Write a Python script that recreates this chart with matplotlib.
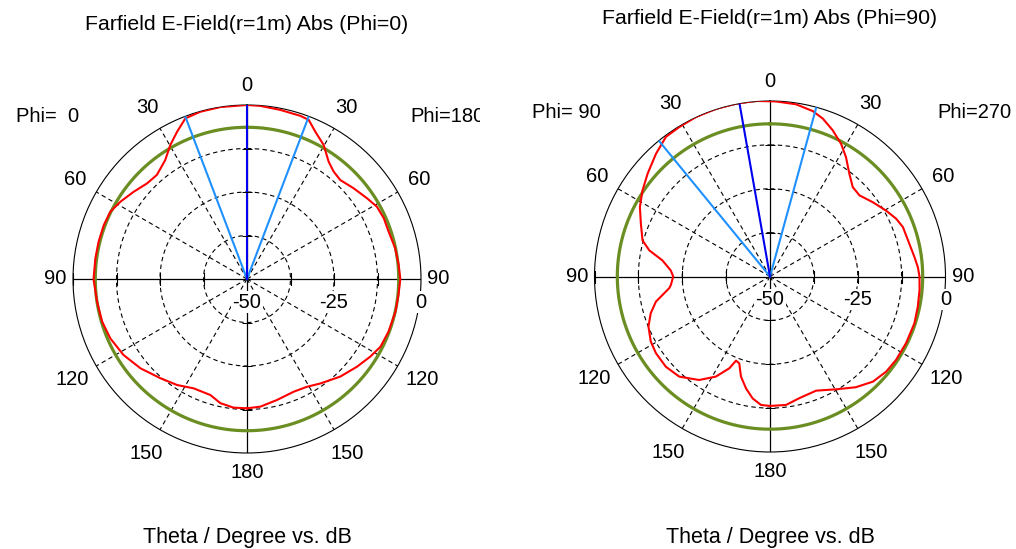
import numpy as np
import matplotlib
matplotlib.use('Agg')
import matplotlib.pyplot as plt
from matplotlib.transforms import Bbox, TransformedBbox, offset_copy

plt.rcParams['font.family'] = ['Liberation Sans', 'DejaVu Sans']

# ---------------- data ----------------
# plot angle: degrees clockwise from top (negative = left half)
left_theta = [-180, -174, -167.9, -162.5, -154, -146.6, -138.9, -130, -121.6, -113.5,
              -106.4, -98.6, -92.2, -90, -82.2, -75.9, -69.4, -63.8, -58.6, -52.4,
              -46.3, -40.9, -34.5, -29.8, -25.4, -21, -15.6, -8.8, 0, 4.4,
              11.2, 18.1, 21.2, 24.9, 29.8, 34.8, 38.9, 43.3, 49.6, 56.1,
              60.9, 66.1, 71.5, 78.3, 84.7, 90, 96, 102.4, 110.4, 116.9,
              122.2, 128.6, 136.3, 144.9, 150.9, 157.5, 166.1, 174, 180]
left_db = [-12.84, -12.84, -13.51, -15.04, -15.04, -13.51, -12.16, -10.06, -8.33, -7.18,
           -6.61, -6.42, -6.13, -5.9, -6.03, -6.03, -6.03, -6.23, -7.38, -8.91,
           -10.25, -10.44, -8.52, -5.65, -3.16, -0.57, -0.10, 0.0, 0.0, -0.1,
           -0.48, -0.67, -0.96, -3.35, -5.65, -8.91, -10.34, -10.92, -9.77, -8.43,
           -7.28, -6.99, -7.09, -6.51, -6.23, -5.94, -6.23, -6.32, -6.61, -6.99,
           -8.14, -9.58, -11.21, -13.31, -14.56, -14.94, -14.18, -13.12, -12.84]

right_theta = [-180, -176, -171.9, -167.9, -163.8, -160.5, -158, -156.1, -151.6, -145.6,
               -137.8, -130.9, -123.9, -118.6, -112.4, -107.1, -102.4, -96.6, -94.8, -90,
               -86.5, -81.5, -77.8, -74.2, -67.8, -61.9, -56, -50, -42.9, -36.7,
               -31.3, -24.9, -17.9, -11.1, -4.6, 2, 8.6, 14.5, 18.5, 23.2,
               28.2, 32.5, 37.7, 42.8, 47.8, 54.1, 60.4, 65.4, 69.6, 76.8,
               82.4, 86.4, 90, 95.1, 101.5, 108, 116.1, 123.5, 129.3, 135.6,
               142.2, 149.6, 158, 166.4, 172.9, 180]
right_db = [-13.12, -13.31, -14.92, -17.40, -20.34, -23.76, -24.14, -21.39, -17.59, -14.26,
            -11.50, -10.74, -10.84, -11.31, -12.55, -14.45, -16.73, -21.10, -21.67, -22.43,
            -21.67, -19.01, -14.83, -12.26, -10.27, -7.98, -6.18, -4.47, -2.28, -0.38,
            -0.19, 0.1, 0.19, 0.19, 0.19, -0.10, -0.38, -1.33, -2.57, -4.66,
            -7.13, -9.70, -13.02, -15.30, -15.59, -13.88, -11.98, -10.46, -9.60, -9.22,
            -8.46, -7.79, -7.41, -7.22, -7.03, -6.75, -6.84, -6.94, -7.22, -8.08,
            -10.08, -12.74, -14.92, -14.35, -13.12, -13.12]

green_level = [-6.4, -6.5]
main_lobe = [0.0, -10.0]
beam_width = [[-20.8, 20.8], [-39.3, 15.3]]

r_min, r_max = -50, 0
ring_levels = [-37.5, -25, -12.5]
radial_labels = ['-50', '-25', '0']
angle_ticks = [30, 60, 120, 150]
titles = ['Farfield E-Field(r=1m) Abs (Phi=0)', 'Farfield E-Field(r=1m) Abs (Phi=90)']
phi_left = ['Phi=  0', 'Phi= 90']
phi_right = ['Phi=180', 'Phi=270']
xlabel = 'Theta / Degree vs. dB'

# ---------------- layout ----------------
W, H = 1016, 549
fig = plt.figure(figsize=(W / 100, H / 100), dpi=100)
fig.patch.set_facecolor('white')

RED = '#ff0000'
GREEN = '#6b8e23'
DBLUE = '#0000ee'
LBLUE = '#1e90ff'
FS = 14.5


def fx(x):
    return x / W


def fy(y):
    return 1 - y / H


def make_plot(i, cx, cy, R, theta, db, title_y):
    ax = fig.add_axes([fx(cx - R), fy(cy + R), 2 * R / W, 2 * R / H], projection='polar')
    ax.set_theta_zero_location('N')
    ax.set_theta_direction(-1)
    ax.set_rlim(r_min, r_max)
    ax.grid(False)
    ax.set_xticks([])
    ax.set_yticks([])
    ax.spines['polar'].set_linewidth(0.8)
    ax.spines['polar'].set_color('black')

    full = np.linspace(0, 2 * np.pi, 721)
    dash = (0, (4, 3))
    for lvl in ring_levels:
        ax.plot(full, np.full_like(full, lvl), color='black', lw=0.8, ls=dash, zorder=1)
    for a in angle_ticks:
        for s in (1, -1):
            ax.plot([np.deg2rad(s * a)] * 2, [r_min, r_max], color='black', lw=0.8, ls=dash, zorder=1)
    for a in (0, 90, 180, -90):
        ax.plot([np.deg2rad(a)] * 2, [r_min, r_max], color='black', lw=0.9, zorder=2)
    tick_r = ring_levels + [r_max]
    ax.plot([np.deg2rad(90)] * 4, tick_r, ls='none', marker='|', ms=8, mew=0.8, color='black', zorder=2)
    ax.plot([np.deg2rad(-90)] * 4, tick_r, ls='none', marker='|', ms=8, mew=0.8, color='black', zorder=2)
    ax.plot([0] * 3, ring_levels, ls='none', marker='_', ms=7, mew=0.7, color='black', zorder=7)
    ax.plot([np.pi] * 3, ring_levels, ls='none', marker='_', ms=7, mew=0.7, color='black', zorder=2)

    # radial labels
    tr = offset_copy(ax.transData, fig=fig, x=0, y=-23, units='dots')
    for lab, rv in zip(radial_labels, [r_min, (r_min + r_max) / 2, r_max]):
        ax.text(np.deg2rad(90), rv, lab, transform=tr, ha='center', va='center', fontsize=FS,
                clip_on=False, zorder=3,
                bbox=dict(facecolor='white', edgecolor='none', pad=1.0))

    # curves
    ax.plot(full, np.full_like(full, green_level[i]), color=GREEN, lw=2.3, zorder=4)
    ax.plot(np.deg2rad(theta), db, color=RED, lw=1.5, zorder=5)
    for a in beam_width[i]:
        ax.plot([np.deg2rad(a)] * 2, [r_min, r_max], color=LBLUE, lw=1.5, zorder=6)
    ax.plot([np.deg2rad(main_lobe[i])] * 2, [r_min, r_max], color=DBLUE, lw=1.5, zorder=6)

    # angle labels
    span = r_max - r_min
    lab_r = {0: 1.11, 30: 1.14, 60: 1.14, 90: 1.10, 120: 1.16, 150: 1.155, 180: 1.11}
    for a in [0, 30, 60, 90, 120, 150, 180]:
        for s in ((1,) if a in (0, 180) else (1, -1)):
            ax.text(np.deg2rad(s * a), r_min + span * lab_r[a], str(a), ha='center', va='center',
                    fontsize=FS, clip_on=False)

    fig.text(fx(cx), fy(title_y), titles[i], ha='center', va='center', fontsize=15.3)
    fig.text(fx(cx), fy(537), xlabel, ha='center', va='center', fontsize=15.5)
    return ax


make_plot(0, 247, 279, 174, left_theta, left_db, 25)
make_plot(1, 770, 276.5, 175.5, right_theta, right_db, 19)

fig.text(fx(48), fy(117), phi_left[0], ha='center', va='center', fontsize=FS)
t = fig.text(fx(410), fy(117), phi_right[0], ha='left', va='center', fontsize=FS)
t.set_clip_box(TransformedBbox(Bbox([[0, 0], [fx(480), 1]]), fig.transFigure))
t.set_clip_on(True)
fig.text(fx(566), fy(112), phi_left[1], ha='center', va='center', fontsize=FS)
fig.text(fx(974), fy(112), phi_right[1], ha='center', va='center', fontsize=FS)

fig.savefig('out.png', dpi=100, facecolor='white')
